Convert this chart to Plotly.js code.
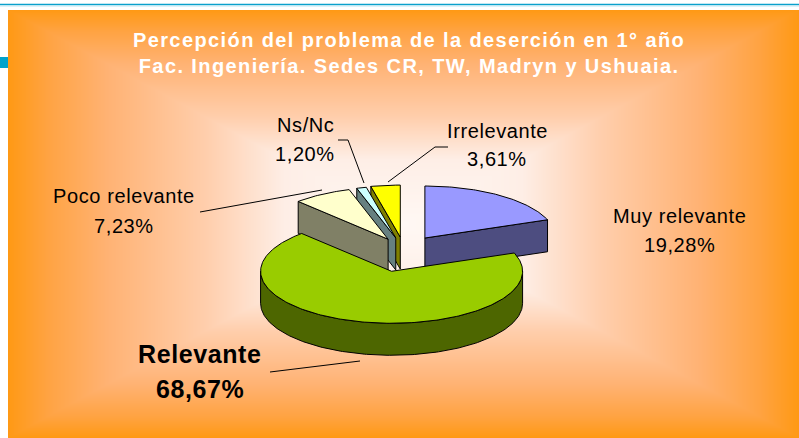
<!DOCTYPE html>
<html>
<head>
<meta charset="utf-8">
<script src="https://cdn.plot.ly/plotly-3.0.1.min.js"></script>
<style>
  html, body { margin:0; padding:0; background:#ffffff; }
  #chart { width:799px; height:438px; }
  .gtitle { letter-spacing: 1.4px; }
  .annotation-text { letter-spacing: 0.6px; }
</style>
</head>
<body>
<div id="chart"></div>
<script>
// ---- data ----
const categories = ['Muy relevante', 'Relevante', 'Poco relevante', 'Ns/Nc', 'Irrelevante'];
const values = [19.28, 68.67, 7.23, 1.20, 3.61];
const titleLines = ['Percepción del problema de la deserción en 1° año',
                    'Fac. Ingeniería. Sedes CR, TW, Madryn y Ushuaia.'];

// ---- style ----
const topColors  = ['#9999FF', '#99CC00', '#FFFFCC', '#CCFFFF', '#FFFF00'];
const sideColors = ['#4D4D80', '#4D6600', '#808066', '#668080', '#808000'];
const pulls = [0.28, 0.42, 0.24, 0.24, 0.25];
const pie = { cx: 404, cy: 250, rx: 131, ry: 52, depth: 32 };
// label placement: [centerX, baseline name, baseline percent, bold]
const labelPos = [[679, 223, 252, false], [200, 363, 398, true], [124, 203, 233, false],
                  [305, 132, 161, false], [497, 138, 166, false]];
const FONT = 'Liberation Sans, Arial, sans-serif';

// ---- background gradient (rectangular "from centre") ----
function gradientURL() {
  const w = 791, h = 428;
  const c = document.createElement('canvas');
  c.width = w; c.height = h;
  const ctx = c.getContext('2d');
  const img = ctx.createImageData(w, h);
  const stops = [[0, [255, 248, 244]], [0.3, [254, 238, 230]], [0.5, [255, 206, 172]],
                 [0.75, [255, 178, 115]], [0.9, [255, 163, 66]], [1.0, [255, 153, 20]]];
  function col(t) {
    for (let i = 1; i < stops.length; i++) {
      if (t <= stops[i][0]) {
        const a = stops[i - 1], b = stops[i];
        const f = (t - a[0]) / (b[0] - a[0]);
        return [0, 1, 2].map(k => a[1][k] + (b[1][k] - a[1][k]) * f);
      }
    }
    return stops[stops.length - 1][1];
  }
  for (let y = 0; y < h; y++) {
    for (let x = 0; x < w; x++) {
      const t = Math.min(1, Math.max(Math.abs(x + 0.5 - w / 2) / (w / 2), Math.abs(y + 0.5 - h / 2) / (h / 2)));
      const cc = col(t);
      const i = (y * w + x) * 4;
      img.data[i] = cc[0]; img.data[i + 1] = cc[1]; img.data[i + 2] = cc[2]; img.data[i + 3] = 255;
    }
  }
  ctx.putImageData(img, 0, 0);
  return c.toDataURL('image/png');
}

// ---- pseudo-3D pie built from the values ----
const total = values.reduce((a, b) => a + b, 0);
const slices = [];
let acc = 0;
values.forEach((v, i) => {
  const s = acc / total * 2 * Math.PI;
  acc += v;
  const e = acc / total * 2 * Math.PI;
  const m = (s + e) / 2;
  const ax = pie.cx + pulls[i] * pie.rx * Math.sin(m);
  const ay = pie.cy - pulls[i] * pie.ry * Math.cos(m);
  slices.push({ i, s, e, m, ax, ay });
});
function P(sl, th, dz) {
  return [sl.ax + pie.rx * Math.sin(th), sl.ay - pie.ry * Math.cos(th) + (dz || 0)];
}
function arc(sl, a0, a1, dz) {
  const pts = [];
  const n = Math.max(2, Math.ceil(Math.abs(a1 - a0) / (Math.PI / 180)));
  for (let k = 0; k <= n; k++) pts.push(P(sl, a0 + (a1 - a0) * k / n, dz));
  return pts;
}
function poly(pts, fill) {
  const x = pts.map(p => p[0]), y = pts.map(p => p[1]);
  x.push(x[0]); y.push(y[0]);
  return { type: 'scatter', mode: 'lines', x, y, fill: 'toself', fillcolor: fill,
           line: { color: '#000000', width: 1 }, hoverinfo: 'skip', showlegend: false };
}
// painter's order: far slices first
const order = slices.slice().sort((a, b) => (-Math.cos(a.m)) - (-Math.cos(b.m)));
const traces = [];
const d = pie.depth;
order.forEach(sl => {
  const side = sideColors[sl.i], top = topColors[sl.i];
  if (Math.sin(sl.s) < -1e-6) {
    const p = P(sl, sl.s);
    traces.push(poly([[sl.ax, sl.ay], p, [p[0], p[1] + d], [sl.ax, sl.ay + d]], side));
  }
  if (Math.sin(sl.e) > 1e-6) {
    const p = P(sl, sl.e);
    traces.push(poly([[sl.ax, sl.ay], p, [p[0], p[1] + d], [sl.ax, sl.ay + d]], side));
  }
  const a0 = Math.max(sl.s, Math.PI / 2), a1 = Math.min(sl.e, 3 * Math.PI / 2);
  if (a1 > a0) {
    const up = arc(sl, a0, a1, 0), dn = arc(sl, a1, a0, d);
    traces.push(poly(up.concat(dn), side));
  }
  traces.push(poly([[sl.ax, sl.ay]].concat(arc(sl, sl.s, sl.e, 0)), top));
});

// ---- labels ----
const annotations = [];
categories.forEach((name, i) => {
  const lp = labelPos[i];
  const bold = lp[3];
  const size = bold ? 25 : 20;
  const pct = values[i].toFixed(2).replace('.', ',') + '%';
  [[name, lp[1]], [pct, lp[2]]].forEach(([txt, base]) => {
    annotations.push({
      xref: 'x', yref: 'y', x: lp[0], y: base - 0.35 * size,
      xanchor: 'center', yanchor: 'middle', showarrow: false,
      text: bold ? '<b>' + txt + '</b>' : txt,
      font: { family: FONT, size: size, color: '#000000' }
    });
  });
});

const leader = { color: '#000000', width: 1 };
const shapes = [
  { type: 'line', xref: 'x', yref: 'y', x0: 0, x1: 799, y0: 4.5, y1: 4.5, line: { color: '#0AA0CC', width: 1.5 } },
  { type: 'line', xref: 'x', yref: 'y', x0: 0, x1: 799, y0: 6, y1: 6, line: { color: '#BDE6F3', width: 1 } },
  { type: 'rect', xref: 'x', yref: 'y', x0: 0, x1: 8, y0: 57, y1: 68, fillcolor: '#00A3CC', line: { width: 0 } },
  { type: 'path', xref: 'x', yref: 'y', path: 'M200,212 L322,190', line: leader },
  { type: 'path', xref: 'x', yref: 'y', path: 'M338,140 L348,140 L364,183', line: leader },
  { type: 'path', xref: 'x', yref: 'y', path: 'M448,147 L435,147 L388,182', line: leader },
  { type: 'path', xref: 'x', yref: 'y', path: 'M270,372 L360,361', line: leader }
];

const layout = {
  width: 799, height: 438,
  margin: { l: 0, r: 0, t: 0, b: 0 },
  paper_bgcolor: '#ffffff', plot_bgcolor: 'rgba(0,0,0,0)',
  showlegend: false,
  xaxis: { range: [0, 799], visible: false, fixedrange: true },
  yaxis: { range: [438, 0], visible: false, fixedrange: true },
  title: {
    text: '<b>' + titleLines.join('<br>') + '</b>',
    font: { family: FONT, size: 20, color: '#ffffff' },
    x: 0.512, xanchor: 'center', xref: 'container',
    y: 0.893, yanchor: 'top', yref: 'container'
  },
  images: [{ source: gradientURL(), xref: 'x', yref: 'y', x: 8, y: 10, sizex: 791, sizey: 428,
             xanchor: 'left', yanchor: 'top', sizing: 'stretch', layer: 'below' }],
  shapes, annotations
};

Plotly.newPlot('chart', traces, layout, { displayModeBar: false, staticPlot: true });
</script>
</body>
</html>
